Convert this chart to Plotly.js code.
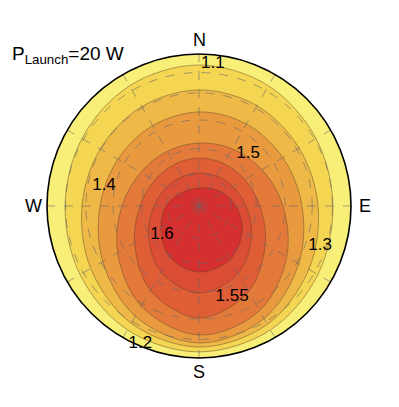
<!DOCTYPE html>
<html>
<head>
<meta charset="utf-8">
<script src="https://cdn.plot.ly/plotly-3.0.1.min.js"></script>
<style>
  html, body { margin: 0; padding: 0; background: #fff; }
  #chart { width: 399px; height: 407px; }
</style>
</head>
<body>
<div id="chart"></div>
<script>
// contour levels and the angle of each read-off point (deg, clockwise from N)
var levels = [1.1, 1.2, 1.3, 1.4, 1.5, 1.55, 1.6];
var angles = [0, 30, 60, 90, 120, 150, 180, 210, 240, 270, 300, 330];

// radius of each contour line (zenith deg, 90 = rim) at the angles above
var r110 = [83.5, 82.2, 80.0, 79.3, 81.3, 84.7, 86.4, 84.7, 81.3, 79.3, 80.0, 82.2];
var r120 = [68.7, 68.6, 68.5, 70.5, 75.1, 80.9, 83.5, 80.2, 74.0, 69.3, 67.5, 67.9];
var r130 = [55.7, 56.1, 57.3, 61.0, 68.2, 77.0, 81.1, 75.4, 65.8, 58.6, 55.4, 54.9];
var r140 = [37.3, 39.1, 43.0, 49.7, 60.0, 71.6, 76.4, 68.4, 55.6, 45.6, 39.8, 37.4];
var r150 = [28.4, 29.1, 31.3, 36.1, 45.3, 58.6, 66.3, 57.6, 44.0, 34.9, 30.4, 28.6];
var r155 = [19.5, 20.5, 23.0, 27.8, 35.9, 46.2, 51.5, 45.1, 34.5, 26.6, 22.1, 20.0];
var r160 = [10.7, 12.1, 16.0, 21.9, 29.6, 36.7, 39.1, 34.9, 26.1, 19.5, 13.9, 11.2];
var radii = [r110, r120, r130, r140, r150, r155, r160];

// inline contour labels
var labelText = ['1.1', '1.2', '1.3', '1.4', '1.5', '1.55', '1.6'];
var labelR = [84.6, 88.8, 75.4, 57.5, 42.7, 57.3, 27.8];
var labelTheta = [5.6, 203, 108, 282, 43, 160, 232];

// compass letters
var compass = ['N', 'E', 'S', 'W'];
var compassTheta = [0, 90, 180, 270];

// band colours, lowest band first
var bandColors = ['#f8ef78', '#f4d652', '#efb947', '#e99a3f', '#e47a3a', '#df5e36', '#db4d34', '#d5302f'];

function closeLoop(a) { return a.concat([a[0]]); }

var data = levels.map(function(lv, i) {
    return {
        type: 'scatterpolar', subplot: 'polar',
        r: closeLoop(radii[i]), theta: closeLoop(angles),
        mode: 'lines', fill: 'toself', fillcolor: bandColors[i + 1],
        line: {color: 'rgba(95,70,45,0.6)', width: 0.8, shape: 'spline', smoothing: 1},
        hoverinfo: 'skip', showlegend: false
    };
});

var fontFam = 'Liberation Sans, Arial, sans-serif';

data.push({
    type: 'scatterpolar', subplot: 'polar2',
    r: labelR, theta: labelTheta, text: labelText,
    mode: 'text', cliponaxis: false,
    textfont: {family: fontFam, size: 17, color: '#000'},
    hoverinfo: 'skip', showlegend: false
});

// plot circle in pixels, used to place the compass letters just outside the rim
var cx = 199, cy = 206, rad = 152, gap = 14;

var compassNotes = compass.map(function(c, i) {
    var a = compassTheta[i] * Math.PI / 180;
    return {
        xref: 'paper', yref: 'paper',
        x: (cx + (rad + gap) * Math.sin(a)) / 399,
        y: 1 - (cy - (rad + gap) * Math.cos(a)) / 407,
        xanchor: 'center', yanchor: 'middle', showarrow: false,
        text: c, font: {size: 18, color: '#000'}
    };
});

var dom = {x: [(cx - rad) / 399, (cx + rad) / 399], y: [1 - (cy + rad) / 407, 1 - (cy - rad) / 407]};
var gridCol = 'rgba(105,105,105,0.75)';

var layout = {
    width: 399, height: 407,
    margin: {l: 0, r: 0, t: 0, b: 0},
    paper_bgcolor: '#fff',
    font: {family: fontFam, color: '#000'},
    showlegend: false,
    polar: {
        domain: dom,
        bgcolor: bandColors[0],
        radialaxis: {range: [0, 90], visible: false},
        angularaxis: {direction: 'clockwise', rotation: 90, visible: false}
    },
    polar2: {
        domain: dom,
        bgcolor: 'rgba(0,0,0,0)',
        radialaxis: {
            range: [0, 90], tickmode: 'array', tickvals: [19, 34, 51, 67, 79],
            showticklabels: false, ticks: '', showline: false,
            gridcolor: gridCol, griddash: 'dash', gridwidth: 0.8
        },
        angularaxis: {
            direction: 'clockwise', rotation: 90,
            tickmode: 'array', tickvals: angles, showticklabels: false, ticks: '',
            showline: true, linecolor: '#000', linewidth: 1.6,
            gridcolor: gridCol, griddash: 'dash', gridwidth: 0.8
        }
    },
    annotations: [{
        xref: 'paper', yref: 'paper', x: 10 / 399, y: 1 - 55 / 407,
        xanchor: 'left', yanchor: 'middle', showarrow: false,
        text: 'P<sub>Launch</sub>=20 W',
        font: {size: 19, color: '#000'}
    }].concat(compassNotes)
};

Plotly.newPlot('chart', data, layout, {displayModeBar: false, staticPlot: true});
</script>
</body>
</html>
